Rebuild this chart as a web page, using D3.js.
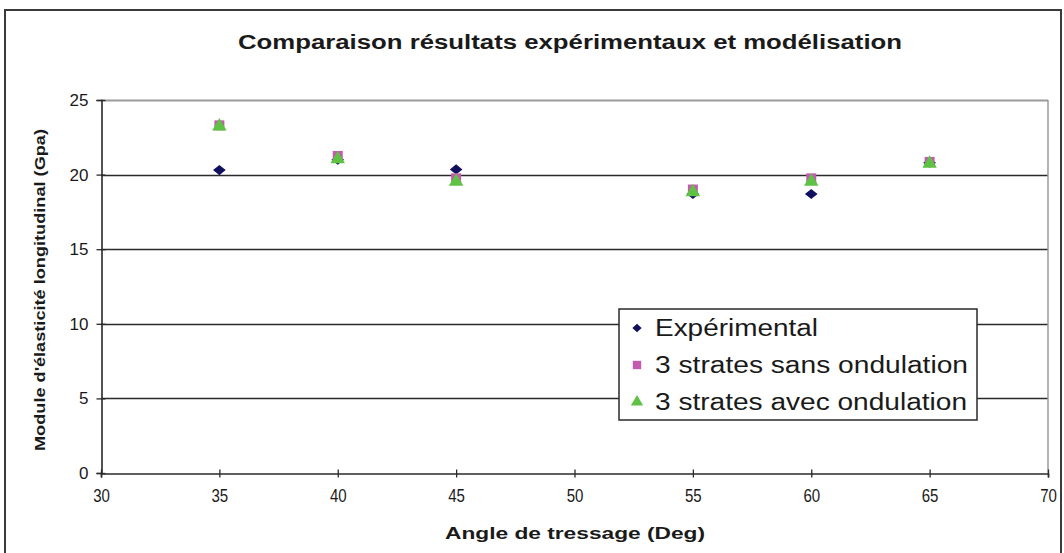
<!DOCTYPE html>
<html>
<head>
<meta charset="utf-8">
<script src="https://cdn.jsdelivr.net/npm/d3@7"></script>
<style>
  html, body { margin: 0; padding: 0; background: #fff; }
  svg { display: block; }
  text { font-family: "Liberation Sans", Arial, sans-serif; fill: #1a1a1a; }
</style>
</head>
<body>
<svg id="chart" width="1064" height="553"></svg>
<script>
// Angles de tressage (degrés)
const angles = [35, 40, 45, 55, 60, 65];
// Module d'élasticité longitudinal (GPa)
const experimental = [20.3, 21.0, 20.35, 18.7, 18.7, 20.8];
const sansOndulation = [23.3, 21.25, 19.75, 19.0, 19.75, 20.85];
const avecOndulation = [23.3, 21.1, 19.6, 18.9, 19.6, 20.8];

const xTicks = [30, 35, 40, 45, 50, 55, 60, 65, 70];
const yTicks = [0, 5, 10, 15, 20, 25];

const seriesNames = ["Expérimental", "3 strates sans ondulation", "3 strates avec ondulation"];

const svg = d3.select("#chart");

const x = d3.scaleLinear().domain([30, 70]).range([101, 1048]);
const y = d3.scaleLinear().domain([0, 25]).range([473, 100]);

// Cadre du graphique
svg.append("path")
  .attr("d", "M5,560 L5,10 L1061,10 L1061,560")
  .attr("fill", "none").attr("stroke", "#3a3a3a").attr("stroke-width", 2);

// Titre
svg.append("text")
  .attr("x", 570).attr("y", 49)
  .attr("text-anchor", "middle")
  .attr("font-size", 20).attr("font-weight", "bold")
  .attr("textLength", 664).attr("lengthAdjust", "spacingAndGlyphs")
  .text("Comparaison résultats expérimentaux et modélisation");

// Quadrillage horizontal
svg.append("g").selectAll("line")
  .data(yTicks.filter(d => d > 0))
  .join("line")
  .attr("x1", x(30)).attr("x2", x(70))
  .attr("y1", d => Math.round(y(d)) + 0.5).attr("y2", d => Math.round(y(d)) + 0.5)
  .attr("stroke", d => d === 25 ? "#9a9a9a" : "#2a2a2a")
  .attr("stroke-width", d => d === 25 ? 2 : 1.4);

// Bord droit de la zone de tracé
svg.append("line")
  .attr("x1", x(70)).attr("x2", x(70))
  .attr("y1", y(25)).attr("y2", y(0))
  .attr("stroke", "#9a9a9a").attr("stroke-width", 1.5);

// Axe des abscisses
const xAxis = svg.append("g")
  .attr("transform", `translate(0,${Math.round(y(0)) + 0.5})`)
  .call(d3.axisBottom(x).tickValues(xTicks).tickSize(4).tickPadding(12).tickFormat(d3.format("d")));
xAxis.select(".domain").attr("stroke", "#2a2a2a").attr("stroke-width", 1.6);
xAxis.selectAll(".tick line").attr("y1", -4).attr("stroke", "#2a2a2a").attr("stroke-width", 1.3);
xAxis.selectAll(".tick text")
  .attr("font-size", 17.5).attr("fill", "#1a1a1a")
  .attr("transform", "scale(0.86,1)")
  .attr("font-family", "'Liberation Sans', Arial, sans-serif");

// Axe des ordonnées
const yAxis = svg.append("g")
  .attr("transform", `translate(${Math.round(x(30)) + 0.5},0)`)
  .call(d3.axisLeft(y).tickValues(yTicks).tickSize(5).tickPadding(9).tickFormat(d3.format("d")));
yAxis.select(".domain").attr("stroke", "#2a2a2a").attr("stroke-width", 1.6);
yAxis.selectAll(".tick line").attr("x1", 4).attr("x2", -5).attr("stroke", "#2a2a2a").attr("stroke-width", 1.3);
yAxis.selectAll(".tick text")
  .attr("font-size", 17).attr("fill", "#1a1a1a")
  .attr("x", -13)
  .attr("font-family", "'Liberation Sans', Arial, sans-serif");

// Titres des axes
svg.append("text")
  .attr("x", 575).attr("y", 539)
  .attr("text-anchor", "middle")
  .attr("font-size", 16).attr("font-weight", "bold")
  .attr("textLength", 260).attr("lengthAdjust", "spacingAndGlyphs")
  .text("Angle de tressage (Deg)");

svg.append("text")
  .attr("transform", "translate(45,290) rotate(-90)")
  .attr("text-anchor", "middle")
  .attr("font-size", 15).attr("font-weight", "bold")
  .attr("textLength", 322).attr("lengthAdjust", "spacingAndGlyphs")
  .text("Module d'élasticité longitudinal (Gpa)");

// Marqueurs
const colors = ["#10105e", "#c45bb0", "#5fc244"];
const symbols = [d3.symbolDiamond2, d3.symbolSquare, d3.symbolTriangle];
const sizes = [65, 100, 90];
const series = [experimental, sansOndulation, avecOndulation];

const markerPath = (i, s) => d3.symbol(symbols[i], s)();

series.forEach((vals, i) => {
  svg.append("g").selectAll("path")
    .data(angles.map((a, k) => ({a, v: vals[k]})))
    .join("path")
    .attr("transform", d => `translate(${x(d.a)},${y(d.v) + (i === 2 ? 1 : 0)})` + (i === 0 ? " scale(1.25,1)" : ""))
    .attr("d", markerPath(i, sizes[i]))
    .attr("fill", colors[i]);
});

// Légende
const lg = svg.append("g");
lg.append("rect")
  .attr("x", 619).attr("y", 309).attr("width", 358).attr("height", 111)
  .attr("fill", "#fff").attr("stroke", "#2a2a2a").attr("stroke-width", 1.5);
const rowsY = [328, 365, 402];
const labelWidths = [163, 313, 312];
seriesNames.forEach((name, i) => {
  lg.append("path")
    .attr("transform", `translate(637,${rowsY[i]})` + (i === 0 ? " scale(1.1,1)" : ""))
    .attr("d", markerPath(i, i === 0 ? 45 : (i === 1 ? 70 : 65)))
    .attr("fill", colors[i]);
  lg.append("text")
    .attr("x", 655).attr("y", rowsY[i] + 8)
    .attr("font-size", 23)
    .attr("textLength", labelWidths[i]).attr("lengthAdjust", "spacingAndGlyphs")
    .text(name);
});
</script>
</body>
</html>
